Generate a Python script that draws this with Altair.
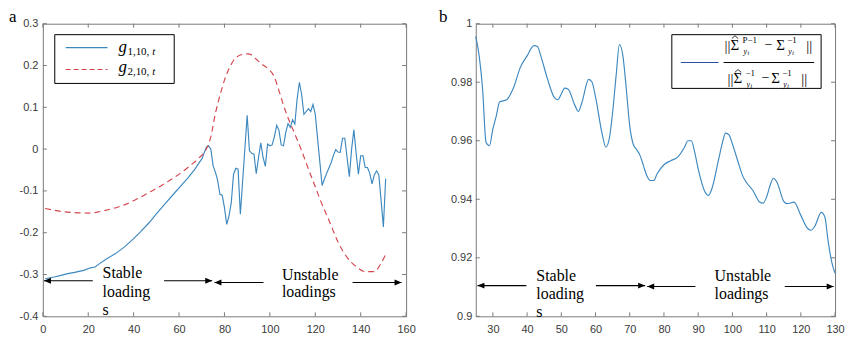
import altair as alt
import pandas as pd

# ---------------- data: panel a ----------------
a_t1 = [1, 5, 8, 11, 14, 18, 21, 23, 25, 28, 32, 36, 40, 43, 47, 50, 54, 58, 61, 64,
        67, 69, 70, 71, 72, 73, 74, 75, 76, 77, 78, 79, 80, 81, 82, 83, 84, 85, 86, 87,
        90, 91, 92, 93, 94, 95, 96, 97, 98, 99, 100, 101, 102, 103, 104, 105, 106, 107, 108, 109,
        110, 111, 112, 113, 114, 115, 116, 117, 118, 119, 120, 123, 124, 125, 126, 127, 128, 129, 130, 131,
        132, 133, 134, 135, 136, 137, 138, 139, 140, 141, 142, 143, 144, 145, 146, 147, 148, 150, 151]
a_g1 = [-0.310, -0.306, -0.302, -0.298, -0.295, -0.290, -0.284, -0.282, -0.274, -0.263,
        -0.250, -0.234, -0.214, -0.198, -0.175, -0.155, -0.130, -0.105, -0.087, -0.068,
        -0.048, -0.031, -0.024, -0.010, 0.004, 0.008, 0.000, -0.040, -0.055, -0.075,
        -0.108, -0.110, -0.140, -0.180, -0.160, -0.128, -0.060, -0.046, -0.048, -0.156,
        0.081, -0.004, -0.010, -0.012, -0.059, -0.020, 0.015, -0.020, -0.041, 0.012,
        0.008, 0.010, 0.030, 0.057, 0.045, 0.010, 0.008, 0.040, 0.061, 0.052,
        0.070, 0.060, 0.120, 0.160, 0.130, 0.083, 0.090, 0.097, 0.090, 0.107,
        0.083, -0.087, -0.072, -0.058, -0.045, -0.032, -0.015, -0.001, -0.007, -0.008,
        0.026, 0.026, -0.020, -0.066, 0.000, 0.046, -0.010, -0.060, -0.016, -0.016,
        -0.044, -0.044, -0.058, -0.083, -0.062, -0.052, -0.062, -0.186, -0.071]

a_t2 = [1, 8, 14, 20, 28, 37, 47, 52, 57, 62, 65, 69, 72, 74, 76, 78, 80, 82, 84, 87,
        90, 92, 94, 96, 99, 102, 104, 106, 108, 111, 114, 117, 120, 122, 126, 130, 134, 138, 142, 146,
        149, 151]
a_g2 = [-0.142, -0.149, -0.152, -0.153, -0.146, -0.131, -0.103, -0.088, -0.071, -0.052,
        -0.039, -0.020, 0.000, 0.030, 0.085, 0.128, 0.165, 0.192, 0.212, 0.225,
        0.228, 0.225, 0.215, 0.205, 0.193, 0.172, 0.140, 0.105, 0.075, 0.036,
        -0.004, -0.048, -0.090, -0.119, -0.170, -0.222, -0.259, -0.281, -0.293, -0.293,
        -0.273, -0.252]

a_xticks = [0, 20, 40, 60, 80, 100, 120, 140, 160]
a_yticks = [-0.4, -0.3, -0.2, -0.1, 0, 0.1, 0.2, 0.3]

a_arrow_x1 = [0.5, 53.4, 75.6, 136.4]
a_arrow_x2 = [22.0, 74.6, 97.2, 158.0]
a_arrow_y = [-0.315, -0.315, -0.319, -0.319]
a_head_left_x = [0.5, 75.6]
a_head_left_y = [-0.315, -0.319]
a_head_right_x = [74.6, 158.0]
a_head_right_y = [-0.315, -0.319]

a_note_text = ["Stable", "loading", "s", "Unstable", "loadings"]
a_note_x = [26.3, 26.3, 26.3, 105.3, 105.3]
a_note_y = [-0.309, -0.353, -0.396, -0.313, -0.353]

# ---------------- data: panel b ----------------
b_t = [25, 26, 27, 28, 29, 30, 31, 32, 34, 36, 38, 40, 42, 43, 44, 46, 48, 49,
       50, 51, 52, 54, 55, 56, 58, 59, 60, 62, 63, 64, 65, 66, 67, 68, 69, 70,
       71, 72, 73, 74, 75, 76, 77, 78, 80, 82, 84, 86, 87, 88, 89, 90,
       92, 93, 94, 96, 97, 98, 99, 100, 102, 103, 104, 106, 108, 109, 110, 111, 112, 113,
       115, 116, 118, 120, 122, 123, 124, 126, 127, 128, 129, 130]
b_ratio = [0.9957, 0.989, 0.9776, 0.9595, 0.9583, 0.964, 0.9685, 0.9733, 0.974, 0.978,
           0.985, 0.989, 0.9925, 0.9923, 0.989, 0.981, 0.9747, 0.974,
           0.976, 0.978, 0.9776, 0.972, 0.970, 0.973, 0.981, 0.980, 0.975, 0.962,
           0.9578, 0.9606, 0.9697, 0.982, 0.9929, 0.989, 0.9776, 0.965,
           0.9589, 0.957, 0.955, 0.9515, 0.948, 0.9464, 0.9464, 0.9487, 0.9518, 0.9532,
           0.9544, 0.9578, 0.960, 0.960, 0.956, 0.9504,
           0.9425, 0.9413, 0.9436, 0.9538, 0.9589, 0.9626, 0.962, 0.9589, 0.9515, 0.948,
           0.9459, 0.943, 0.939, 0.9387, 0.9408, 0.9447, 0.9472, 0.9459,
           0.9393, 0.9385, 0.939, 0.9345, 0.930, 0.9294, 0.9306, 0.9355, 0.934, 0.9255,
           0.9187, 0.9147]

b_xticks = [30, 40, 50, 60, 70, 80, 90, 100, 110, 120, 130]
b_yticks = [0.9, 0.92, 0.94, 0.96, 0.98, 1.0]

b_arrow_x1 = [25.5, 60.1, 75.1, 115.3]
b_arrow_x2 = [39.8, 74.5, 89.2, 129.6]
b_arrow_y = [0.9105, 0.9105, 0.9102, 0.9102]
b_head_left_x = [25.5, 75.1]
b_head_left_y = [0.9105, 0.9102]
b_head_right_x = [74.5, 129.6]
b_head_right_y = [0.9105, 0.9102]

b_note_text = ["Stable", "loading", "s", "Unstable", "loadings"]
b_note_x = [42.7, 42.7, 42.7, 94.8, 94.8]
b_note_y = [0.9119, 0.9059, 0.8997, 0.9119, 0.9059]

# ---------------- style ----------------
W_A, W_B, H = 365, 361, 294
FRAME = "#7a7a7a"
BLUE = "#3d88bf"
RED = "#d2474f"
LABEL = "#3a3a3a"
SERIF = "'Liberation Serif', 'Times New Roman', 'DejaVu Serif', serif"
SANS = "'Liberation Sans', Arial, sans-serif"
TICK = 4
ONE = pd.DataFrame({"k": [0]})
LEFT_HEAD = "M0,0 L2,-0.85 L2,0.85 Z"
RIGHT_HEAD = "M0,0 L-2,-0.85 L-2,0.85 Z"
HAT = "M-1,0.45 L0,-0.45 L1,0.45"
NORM = "||"


def axis(values, pad, fmt):
    return alt.Axis(values=values, ticks=False, domain=False, grid=False, title=None,
                    labelFont=SANS, labelFontSize=11, labelColor=LABEL,
                    labelPadding=pad, labelFlush=False, labelOverlap=False,
                    labelExpr=fmt)


FMT = "(datum.value < 0 ? '-' : '') + format(abs(datum.value), '~g')"


def ptext(s, x, y, size, style="normal", family=SERIF):
    return alt.Chart(ONE).mark_text(text=s, font=family, fontSize=size, fontStyle=style,
                                    align="left", baseline="alphabetic", color="black"
                                    ).encode(x=alt.value(x), y=alt.value(y))


def hat(x, y):
    return alt.Chart(ONE).mark_point(shape=HAT, size=42, filled=False, color="black",
                                     strokeWidth=0.8, opacity=1
                                     ).encode(x=alt.value(x), y=alt.value(y))


def panel(W, xdom, ydom, xticks, yticks, ypad, series, arrows, heads_l, heads_r, notes, extra):
    xs = alt.Scale(domain=xdom, nice=False, zero=False)
    ys = alt.Scale(domain=ydom, nice=False, zero=False)

    def X(f):
        return alt.X(f, type="quantitative", scale=xs, axis=axis(xticks, 7, FMT))

    def Y(f):
        return alt.Y(f, type="quantitative", scale=ys, axis=axis(yticks, ypad, FMT))

    layers = []
    xt = pd.DataFrame({"x": xticks})
    yt = pd.DataFrame({"y": yticks})
    layers.append(alt.Chart(xt).mark_rule(color=FRAME, strokeWidth=1).encode(
        x=X("x"), y=alt.value(H), y2=alt.value(H - TICK)))
    layers.append(alt.Chart(xt).mark_rule(color=FRAME, strokeWidth=1).encode(
        x=X("x"), y=alt.value(0), y2=alt.value(TICK)))
    layers.append(alt.Chart(yt).mark_rule(color=FRAME, strokeWidth=1).encode(
        y=Y("y"), x=alt.value(0), x2=alt.value(TICK)))
    layers.append(alt.Chart(yt).mark_rule(color=FRAME, strokeWidth=1).encode(
        y=Y("y"), x=alt.value(W - TICK), x2=alt.value(W)))

    for (tt, vv, color, dash, interp) in series:
        df = pd.DataFrame({"t": tt, "v": vv})
        kw = dict(color=color, strokeWidth=1.15, interpolate=interp)
        if dash:
            kw["strokeDash"] = dash
        layers.append(alt.Chart(df).mark_line(**kw).encode(x=X("t"), y=Y("v")))

    adf = pd.DataFrame({"x1": arrows[0], "x2": arrows[1], "y": arrows[2]})
    layers.append(alt.Chart(adf).mark_rule(color="black", strokeWidth=1.1).encode(
        x=X("x1"), x2="x2", y=Y("y")))
    hl = pd.DataFrame({"x": heads_l[0], "y": heads_l[1]})
    hr = pd.DataFrame({"x": heads_r[0], "y": heads_r[1]})
    layers.append(alt.Chart(hl).mark_point(shape=LEFT_HEAD, size=49, filled=True,
                                           color="black", opacity=1).encode(x=X("x"), y=Y("y")))
    layers.append(alt.Chart(hr).mark_point(shape=RIGHT_HEAD, size=49, filled=True,
                                           color="black", opacity=1).encode(x=X("x"), y=Y("y")))

    ndf = pd.DataFrame({"label": notes[0], "x": notes[1], "y": notes[2]})
    layers.append(alt.Chart(ndf).mark_text(font=SERIF, fontSize=16, align="left",
                                           baseline="alphabetic", color="black").encode(
        x=X("x"), y=Y("y"), text="label"))

    layers.extend(extra)
    return alt.layer(*layers).properties(width=W, height=H)


# ---------- legend / title pieces, panel a ----------
extra_a = [
    alt.Chart(ONE).mark_rect(fill="white", stroke="black", strokeWidth=1).encode(
        x=alt.value(12), x2=alt.value(132), y=alt.value(11), y2=alt.value(60)),
    alt.Chart(ONE).mark_rule(color=BLUE, strokeWidth=1.2).encode(
        x=alt.value(23), x2=alt.value(65), y=alt.value(24)),
    alt.Chart(ONE).mark_rule(color=RED, strokeWidth=1.2, strokeDash=[5, 3]).encode(
        x=alt.value(23), x2=alt.value(65), y=alt.value(46)),
    ptext("g", 76, 28, 17, "italic"),
    ptext("1,10,", 85, 31, 11),
    ptext("t", 110, 31, 11, "italic"),
    ptext("g", 76, 49, 17, "italic"),
    ptext("2,10,", 85, 52, 11),
    ptext("t", 110, 52, 11, "italic"),
    ptext("a", -34, -2, 17),
]

# ---------- legend / title pieces, panel b ----------
extra_b = [
    alt.Chart(ONE).mark_rect(fill="white", stroke="black", strokeWidth=1).encode(
        x=alt.value(197), x2=alt.value(347), y=alt.value(11), y2=alt.value(65)),
    alt.Chart(ONE).mark_rule(color="#2b50a0", strokeWidth=1.2).encode(
        x=alt.value(206), x2=alt.value(244), y=alt.value(39)),
    alt.Chart(ONE).mark_rule(color="black", strokeWidth=1).encode(
        x=alt.value(249), x2=alt.value(340), y=alt.value(39)),
    # numerator
    ptext(NORM, 250, 27, 15),
    ptext("\u03a3", 256, 26, 15),
    hat(260.5, 13.5),
    ptext("P\u22121", 268, 19, 9),
    ptext("y", 269, 30, 8, "italic"),
    ptext("t", 273, 31, 6, "italic"),
    ptext("\u2212", 290, 25, 14),
    ptext("\u03a3", 302, 26, 15),
    ptext("\u22121", 313, 19, 9),
    ptext("y", 314, 30, 8, "italic"),
    ptext("t", 318, 31, 6, "italic"),
    ptext(NORM, 332, 27, 15),
    # denominator
    ptext(NORM, 253, 61, 15),
    ptext("\u03a3", 259, 60, 15),
    hat(263.5, 47.5),
    ptext("\u22121", 271, 53, 9),
    ptext("y", 272, 64, 8, "italic"),
    ptext("t", 276, 65, 6, "italic"),
    ptext("\u2212", 287, 59, 14),
    ptext("\u03a3", 297, 60, 15),
    ptext("\u22121", 308, 53, 9),
    ptext("y", 309, 64, 8, "italic"),
    ptext("t", 313, 65, 6, "italic"),
    ptext(NORM, 327, 61, 15),
    ptext("b", -37, -2, 17),
]

pa = panel(W_A, [0, 160], [-0.4, 0.3], a_xticks, a_yticks, 5,
           [(a_t1, a_g1, BLUE, None, "linear"),
            (a_t2, a_g2, RED, [6, 4], "monotone")],
           (a_arrow_x1, a_arrow_x2, a_arrow_y),
           (a_head_left_x, a_head_left_y), (a_head_right_x, a_head_right_y),
           (a_note_text, a_note_x, a_note_y), extra_a)

pb = panel(W_B, [25, 130], [0.9, 1.0], b_xticks, b_yticks, 4,
           [(b_t, b_ratio, BLUE, None, "monotone")],
           (b_arrow_x1, b_arrow_x2, b_arrow_y),
           (b_head_left_x, b_head_left_y), (b_head_right_x, b_head_right_y),
           (b_note_text, b_note_x, b_note_y), extra_b)

chart = alt.hconcat(pa, pb, spacing=22).properties(
    padding={"left": 0, "top": -2, "right": 0, "bottom": 0},
    background="white",
).configure_view(stroke=FRAME, strokeWidth=1)

chart.save("out.html", embed_options={"renderer": "svg", "actions": False})
